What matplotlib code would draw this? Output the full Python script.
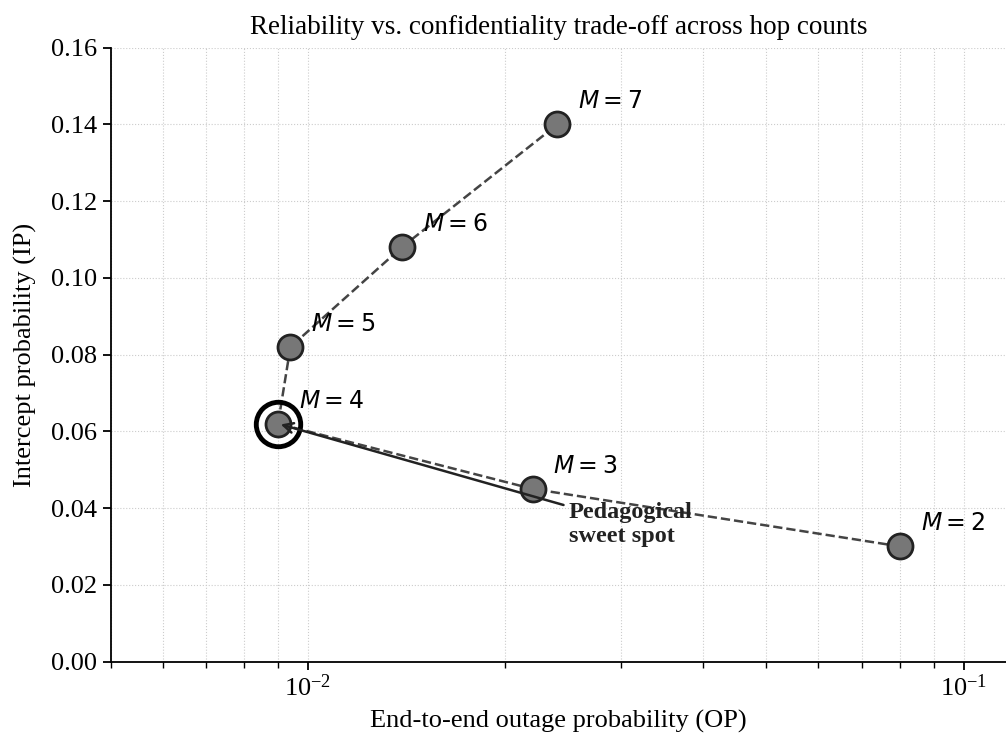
import matplotlib.pyplot as plt
import matplotlib as mpl

mpl.rcParams['font.family'] = ['Liberation Serif', 'DejaVu Serif']

# hop counts and their (OP, IP) operating points
hops = [2, 3, 4, 5, 6, 7]
op = [0.080, 0.022, 0.0090, 0.0094, 0.0139, 0.024]
ip = [0.030, 0.045, 0.062, 0.082, 0.108, 0.140]
best_hop = 4

fig, ax = plt.subplots(figsize=(10.06, 7.35), dpi=100)
fig.subplots_adjust(left=0.11, right=1.0, bottom=0.10, top=0.935)

ax.plot(op, ip, linestyle='--', color='#444444', linewidth=1.8, zorder=2)
ax.plot(op, ip, linestyle='none', marker='o', markersize=18,
        markerfacecolor='#777777', markeredgecolor='#222222',
        markeredgewidth=2, zorder=3)

k = hops.index(best_hop)
ax.plot([op[k]], [ip[k]], linestyle='none', marker='o', markersize=32,
        markerfacecolor='none', markeredgecolor='black',
        markeredgewidth=3.5, zorder=4)

for m, x, y in zip(hops, op, ip):
    ax.annotate('$M = %d$' % m, (x, y), xytext=(15, 8),
                textcoords='offset points', ha='left', va='bottom',
                fontsize=17, zorder=5)

ax.annotate('Pedagogical\nsweet spot', xy=(op[k], ip[k]), xytext=(0.0250, 0.0358),
            ha='left', va='center', fontsize=17.5, fontweight='bold', color='#222222',
            arrowprops=dict(arrowstyle='->', color='#222222', lw=1.8), zorder=5)

ax.set_xscale('log')
ax.set_xlim(0.005, 0.116)
ax.set_ylim(0, 0.16)
ax.set_yticks([0.00, 0.02, 0.04, 0.06, 0.08, 0.10, 0.12, 0.14, 0.16])
ax.yaxis.set_major_formatter(mpl.ticker.FormatStrFormatter('%.2f'))

ax.grid(True, which='both', linestyle=':', color='#cccccc', linewidth=0.8)
ax.set_axisbelow(True)
ax.spines['top'].set_visible(False)
ax.spines['right'].set_visible(False)
ax.spines['left'].set_linewidth(1.3)
ax.spines['bottom'].set_linewidth(1.3)
ax.tick_params(which='major', labelsize=19, width=1.3, length=6)
ax.tick_params(which='minor', width=1.0, length=4)

ax.set_xlabel('End-to-end outage probability (OP)', fontsize=19, labelpad=6)
ax.set_ylabel('Intercept probability (IP)', fontsize=19, labelpad=10)
ax.set_title('Reliability vs. confidentiality trade-off across hop counts', fontsize=19.5, pad=10)

fig.savefig('out.png', dpi=100)
